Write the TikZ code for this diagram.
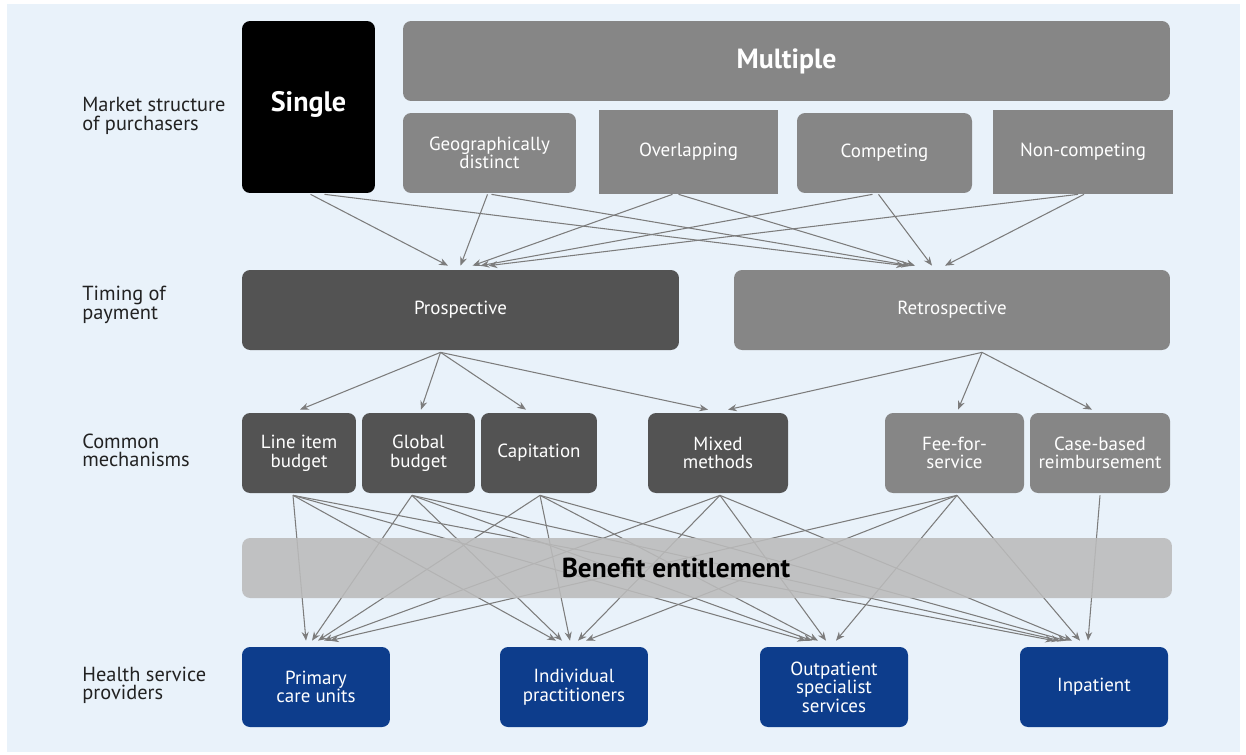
\documentclass[tikz,border=0pt]{standalone}
\usepackage{fontspec}
\setmainfont{PT Sans}
\usetikzlibrary{arrows.meta,calc}

\definecolor{bgblue}{HTML}{E9F2FA}
\definecolor{midgray}{HTML}{868686}
\definecolor{darkgray}{HTML}{535353}
\definecolor{lightgray}{HTML}{BBBBBB}
\definecolor{navy}{HTML}{0D3D8C}
\definecolor{linkgray}{HTML}{7C7C7C}
\definecolor{labelink}{HTML}{222222}

\tikzset{
  box/.style={rectangle, rounded corners=0.16cm, inner sep=0pt, align=center,
    text=white, font=\fontsize{10.8}{10.6}\selectfont},
  sharpbox/.style={box, rounded corners=0pt},
  rowlabel/.style={anchor=west, align=left, inner sep=0pt, text=labelink,
    font=\fontsize{11.6}{10.4}\selectfont},
  conn/.style={draw=linkgray, line width=0.6pt, -{Stealth[length=5pt,width=4pt]}},
}

\begin{document}
\begin{tikzpicture}[x=0.02cm, y=-0.02cm]
  % page and panel background
  \fill[white] (0,0) rectangle (1246,754);
  \fill[bgblue] (7,4) rectangle (1240,752);

  % row labels
  \node[rowlabel] (lab1) at (82,116) {Market structure\\of purchasers};
  \node[rowlabel] (lab2) at (82,305) {Timing of\\payment};
  \node[rowlabel] (lab3) at (82,450) {Common\\mechanisms};
  \node[rowlabel] (lab4) at (82,685) {Health service\\providers};

  % purchasers
  \node[box, fill=black, minimum width=2.66cm, minimum height=3.44cm] (single) at (308.5,107) {};
  \node[text=white, font=\fontsize{16}{18}\selectfont\bfseries] (singletext) at (308.5,104) {Single};
  \node[box, fill=midgray, minimum width=15.34cm, minimum height=1.6cm,
        font=\fontsize{15.8}{17}\selectfont\bfseries] (multi) at (786.5,61) {Multiple};
  \node[box, fill=midgray, minimum width=3.46cm, minimum height=1.6cm] (geo) at (489.5,153) {Geographically\\distinct};
  \node[sharpbox, fill=midgray, minimum width=3.58cm, minimum height=1.68cm] (over) at (688.5,152) {Overlapping};
  \node[box, fill=midgray, minimum width=3.5cm, minimum height=1.6cm] (comp) at (884.5,153) {Competing};
  \node[sharpbox, fill=midgray, minimum width=3.6cm, minimum height=1.68cm] (noncomp) at (1083,152) {Non-competing};

  % timing of payment
  \node[box, fill=darkgray, minimum width=8.74cm, minimum height=1.6cm] (pro) at (460.5,310) {Prospective};
  \node[box, fill=midgray, minimum width=8.72cm, minimum height=1.6cm] (retro) at (952,310) {Retrospective};

  % payment mechanisms
  \node[box, fill=darkgray, minimum width=2.28cm, minimum height=1.6cm] (line) at (299,453) {Line item\\budget};
  \node[box, fill=darkgray, minimum width=2.26cm, minimum height=1.6cm] (global) at (418.5,453) {Global\\budget};
  \node[box, fill=darkgray, minimum width=2.32cm, minimum height=1.6cm] (capit) at (539,453) {Capitation};
  \node[box, fill=darkgray, minimum width=2.8cm, minimum height=1.6cm] (mixed) at (718,453) {Mixed\\methods};
  \node[box, fill=midgray, minimum width=2.78cm, minimum height=1.6cm] (fee) at (954.5,453) {Fee-for-\\service};
  \node[box, fill=midgray, minimum width=2.8cm, minimum height=1.6cm] (case) at (1100,453) {Case-based\\reimbursement};

  % providers
  \node[box, fill=navy, minimum width=2.96cm, minimum height=1.6cm] (prim) at (316,687) {Primary\\care units};
  \node[box, fill=navy, minimum width=2.96cm, minimum height=1.6cm] (indiv) at (574,687) {Individual\\practitioners};
  \node[box, fill=navy, minimum width=2.96cm, minimum height=1.6cm] (outp) at (834,687) {Outpatient\\specialist\\services};
  \node[box, fill=navy, minimum width=2.96cm, minimum height=1.6cm] (inp) at (1094,687) {Inpatient};

  % purchasers -> timing
  \draw[conn] ($(single.south)+(2,1)$)   -- ($(pro.north)+(-12.5,-4)$);
  \draw[conn] ($(single.south)+(16,1)$)  -- ($(retro.north)+(-47,-4)$);
  \draw[conn] ($(geo.south)+(-2,1)$)     -- ($(pro.north)+(0,-4)$);
  \draw[conn] ($(geo.south)+(2,1)$)      -- ($(retro.north)+(-42,-4)$);
  \draw[conn] ($(over.south)+(-16,0)$)   -- ($(pro.north)+(12,-4)$);
  \draw[conn] ($(over.south)+(-10,0)$)   -- ($(retro.north)+(-37,-4)$);
  \draw[conn] ($(comp.south)+(-12,1)$)   -- ($(pro.north)+(20,-4)$);
  \draw[conn] ($(comp.south)+(-6,1)$)    -- ($(retro.north)+(-20,-4)$);
  \draw[conn] ($(noncomp.south)+(-5,0)$) -- ($(pro.north)+(28,-4)$);
  \draw[conn] ($(noncomp.south)+(1,0)$)  -- ($(retro.north)+(-7,-4)$);

  % timing -> mechanisms
  \draw[conn] ($(pro.south)+(-20,2)$) -- ($(line.north)+(1,-3)$);
  \draw[conn] ($(pro.south)+(-20,2)$) -- ($(global.north)+(2.5,-3)$);
  \draw[conn] ($(pro.south)+(-20,2)$) -- ($(capit.north)+(-13,-3)$);
  \draw[conn] ($(pro.south)+(-20,2)$) -- ($(mixed.north)+(-10,-3)$);
  \draw[conn] ($(retro.south)+(30,2)$) -- ($(mixed.north)+(10,-3)$);
  \draw[conn] ($(retro.south)+(30,2)$) -- ($(fee.north)+(3.5,-3)$);
  \draw[conn] ($(retro.south)+(30,2)$) -- ($(case.north)+(-8,-3)$);

  % mechanisms -> providers
  \draw[conn] ($(line.south)+(-6,2)$) -- ($(prim.north)+(-10,-6)$);
  \draw[conn] ($(line.south)+(-6,2)$) -- ($(indiv.north)+(-18,-6)$);
  \draw[conn] ($(line.south)+(-6,2)$) -- ($(outp.north)+(-28,-6)$);
  \draw[conn] ($(line.south)+(-6,2)$) -- ($(inp.north)+(-40,-6)$);
  \draw[conn] ($(global.south)+(-6.5,2)$) -- ($(prim.north)+(-4,-6)$);
  \draw[conn] ($(global.south)+(-6.5,2)$) -- ($(indiv.north)+(-12,-6)$);
  \draw[conn] ($(global.south)+(-6.5,2)$) -- ($(outp.north)+(-22,-6)$);
  \draw[conn] ($(global.south)+(-6.5,2)$) -- ($(inp.north)+(-34,-6)$);
  \draw[conn] ($(capit.south)+(1,2)$) -- ($(prim.north)+(2,-6)$);
  \draw[conn] ($(capit.south)+(1,2)$) -- ($(indiv.north)+(-4,-6)$);
  \draw[conn] ($(capit.south)+(1,2)$) -- ($(outp.north)+(-16,-6)$);
  \draw[conn] ($(capit.south)+(1,2)$) -- ($(inp.north)+(-28,-6)$);
  \draw[conn] ($(mixed.south)+(2,2)$) -- ($(prim.north)+(8,-6)$);
  \draw[conn] ($(mixed.south)+(2,2)$) -- ($(indiv.north)+(4,-6)$);
  \draw[conn] ($(mixed.south)+(2,2)$) -- ($(outp.north)+(-8,-6)$);
  \draw[conn] ($(mixed.south)+(2,2)$) -- ($(inp.north)+(-22,-6)$);
  \draw[conn] ($(fee.south)+(2.5,2)$) -- ($(prim.north)+(14,-6)$);
  \draw[conn] ($(fee.south)+(2.5,2)$) -- ($(indiv.north)+(12,-6)$);
  \draw[conn] ($(fee.south)+(2.5,2)$) -- ($(outp.north)+(2,-6)$);
  \draw[conn] ($(fee.south)+(2.5,2)$) -- ($(inp.north)+(-14,-6)$);
  \draw[conn] ($(case.south)+(0,2)$) -- ($(inp.north)+(-6,-6)$);

  % benefit entitlement band, laid over the links
  \node[box, fill=lightgray, fill opacity=0.88,
        minimum width=18.6cm, minimum height=1.2cm] (benefit) at (707,568) {};
  \node[text=black, inner sep=0pt, font=\fontsize{15.6}{17}\selectfont\bfseries]
        (benefittext) at (676,568) {Benefit entitlement};
\end{tikzpicture}
\end{document}
